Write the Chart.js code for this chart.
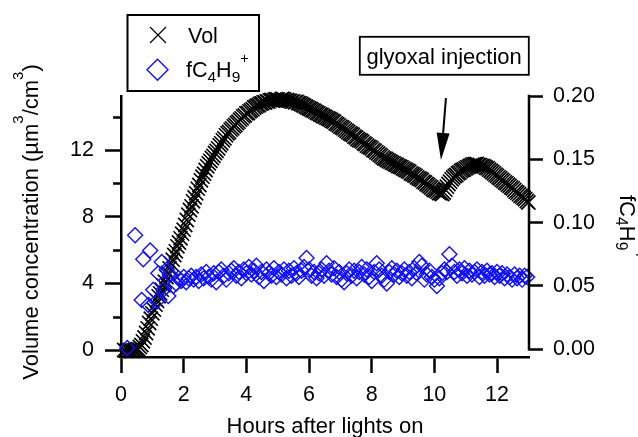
<!DOCTYPE html>
<html>
<head>
<meta charset="utf-8">
<script src="https://cdn.jsdelivr.net/npm/chart.js@4/dist/chart.umd.min.js"></script>
<style>
  html, body { margin: 0; padding: 0; background: #fff; }
  #wrap { width: 638px; height: 437px; }
</style>
</head>
<body>
<div id="wrap"><canvas id="chart" width="638" height="437"></canvas></div>
<script>
// Volume concentration (um3/cm3), left axis
const volHours = [
  0.10, 0.15, 0.20, 0.25, 0.30, 0.35, 0.40, 0.45, 0.50, 0.55,
  0.60, 0.65, 0.70, 0.75, 0.80, 0.85, 0.90, 0.95, 1.00, 1.05,
  1.10, 1.15, 1.20, 1.25, 1.30, 1.35, 1.40, 1.45, 1.50, 1.55,
  1.60, 1.65, 1.70, 1.75, 1.80, 1.85, 1.90, 1.95, 2.00, 2.05,
  2.10, 2.15, 2.20, 2.25, 2.30, 2.35, 2.40, 2.45, 2.50, 2.55,
  2.60, 2.65, 2.70, 2.75, 2.80, 2.85, 2.90, 2.95, 3.00, 3.05,
  3.10, 3.15, 3.20, 3.25, 3.30, 3.35, 3.40, 3.45, 3.50, 3.55,
  3.60, 3.65, 3.70, 3.75, 3.80, 3.85, 3.90, 3.95, 4.00, 4.05,
  4.10, 4.15, 4.20, 4.25, 4.30, 4.35, 4.40, 4.45, 4.50, 4.55,
  4.60, 4.65, 4.70, 4.75, 4.80, 4.85, 4.90, 4.95, 5.00, 5.05,
  5.10, 5.15, 5.20, 5.25, 5.30, 5.35, 5.40, 5.45, 5.50, 5.55,
  5.60, 5.65, 5.70, 5.75, 5.80, 5.85, 5.90, 5.95, 6.00, 6.05,
  6.10, 6.15, 6.20, 6.25, 6.30, 6.35, 6.40, 6.45, 6.50, 6.55,
  6.60, 6.65, 6.70, 6.75, 6.80, 6.85, 6.90, 6.95, 7.00, 7.05,
  7.10, 7.15, 7.20, 7.25, 7.30, 7.35, 7.40, 7.45, 7.50, 7.55,
  7.60, 7.65, 7.70, 7.75, 7.80, 7.85, 7.90, 7.95, 8.00, 8.05,
  8.10, 8.15, 8.20, 8.25, 8.30, 8.35, 8.40, 8.45, 8.50, 8.55,
  8.60, 8.65, 8.70, 8.75, 8.80, 8.85, 8.90, 8.95, 9.00, 9.05,
  9.10, 9.15, 9.20, 9.25, 9.30, 9.35, 9.40, 9.45, 9.50, 9.55,
  9.60, 9.65, 9.70, 9.75, 9.80, 9.85, 9.90, 9.95, 10.00, 10.05,
  10.10, 10.15, 10.20, 10.25, 10.30, 10.35, 10.40, 10.45, 10.50, 10.55,
  10.60, 10.65, 10.70, 10.75, 10.80, 10.85, 10.90, 10.95, 11.00, 11.05,
  11.10, 11.15, 11.20, 11.25, 11.30, 11.35, 11.40, 11.45, 11.50, 11.55,
  11.60, 11.65, 11.70, 11.75, 11.80, 11.85, 11.90, 11.95, 12.00, 12.05,
  12.10, 12.15, 12.20, 12.25, 12.30, 12.35, 12.40, 12.45, 12.50, 12.55,
  12.60, 12.65, 12.70, 12.75, 12.80, 12.85, 12.90, 12.95, 13.00
];
const volValues = [
  0.00, -0.05, 0.02, -0.04, 0.00, -0.06, -0.02, 0.00, 0.03, 0.05,
  0.18, 0.30, 0.52, 0.75, 1.02, 1.30, 1.62, 1.88, 2.20, 2.42,
  2.72, 2.95, 3.22, 3.40, 3.62, 3.88, 4.10, 4.38, 4.62, 4.90,
  5.18, 5.42, 5.70, 5.92, 6.22, 6.45, 6.70, 6.98, 7.22, 7.50,
  7.80, 8.12, 8.40, 8.62, 8.92, 9.15, 9.40, 9.68, 9.90, 10.18,
  10.40, 10.58, 10.80, 11.02, 11.20, 11.35, 11.52, 11.65, 11.82, 11.95,
  12.10, 12.28, 12.40, 12.58, 12.70, 12.88, 13.00, 13.08, 13.22, 13.30,
  13.42, 13.50, 13.62, 13.70, 13.82, 13.90, 14.02, 14.08, 14.20, 14.22,
  14.32, 14.38, 14.45, 14.55, 14.60, 14.66, 14.70, 14.78, 14.80, 14.86,
  14.85, 14.92, 14.90, 14.98, 15.00, 14.96, 15.02, 15.05, 15.04, 14.98,
  15.02, 15.08, 15.04, 14.98, 15.00, 14.96, 14.95, 14.90, 14.92, 14.86,
  14.90, 14.82, 14.80, 14.76, 14.70, 14.66, 14.60, 14.55, 14.50, 14.46,
  14.40, 14.36, 14.30, 14.24, 14.20, 14.14, 14.10, 14.04, 14.00, 13.94,
  13.90, 13.86, 13.80, 13.74, 13.70, 13.60, 13.55, 13.48, 13.40, 13.36,
  13.30, 13.22, 13.15, 13.08, 13.00, 12.96, 12.90, 12.80, 12.75, 12.66,
  12.60, 12.56, 12.50, 12.40, 12.35, 12.26, 12.20, 12.16, 12.10, 12.00,
  11.95, 11.86, 11.80, 11.72, 11.65, 11.56, 11.50, 11.46, 11.40, 11.34,
  11.30, 11.24, 11.20, 11.14, 11.10, 11.04, 11.00, 10.96, 10.90, 10.84,
  10.80, 10.74, 10.70, 10.60, 10.55, 10.50, 10.45, 10.36, 10.30, 10.26,
  10.20, 10.10, 10.05, 9.96, 9.90, 9.82, 9.75, 9.66, 9.60, 9.56,
  9.50, 9.42, 9.40, 9.36, 9.45, 9.62, 9.80, 9.96, 10.10, 10.24,
  10.35, 10.44, 10.50, 10.60, 10.65, 10.74, 10.80, 10.84, 10.90, 10.96,
  11.00, 11.06, 11.10, 11.14, 11.15, 11.16, 11.10, 11.10, 11.05, 11.04,
  11.00, 10.94, 10.90, 10.82, 10.75, 10.68, 10.60, 10.52, 10.45, 10.36,
  10.30, 10.22, 10.15, 10.06, 10.00, 9.92, 9.85, 9.76, 9.70, 9.60,
  9.50, 9.44, 9.35, 9.26, 9.20, 9.12, 9.05, 8.94, 8.85
];

// fC4H9+ fraction, right axis
const fcHours = [
  0.20, 0.45, 0.66, 0.71, 0.87, 0.93, 1.03, 1.14, 1.19, 1.30,
  1.35, 1.46, 1.51, 1.56, 1.67,
  1.76, 1.84, 1.92, 2.00, 2.08, 2.16, 2.24, 2.32, 2.40, 2.48,
  2.56, 2.64, 2.72, 2.80, 2.88, 2.96, 3.04, 3.12, 3.20, 3.28,
  3.36, 3.44, 3.52, 3.60, 3.68, 3.76, 3.84, 3.92, 4.00, 4.08,
  4.16, 4.24, 4.32, 4.40, 4.48, 4.56, 4.64, 4.72, 4.80, 4.88,
  4.96, 5.04, 5.12, 5.20, 5.28, 5.36, 5.44, 5.52, 5.60, 5.68,
  5.76, 5.84, 5.92, 6.00, 6.08, 6.16, 6.24, 6.32, 6.40, 6.48,
  6.56, 6.64, 6.72, 6.80, 6.88, 6.96, 7.04, 7.12, 7.20, 7.28,
  7.36, 7.44, 7.52, 7.60, 7.68, 7.76, 7.84, 7.92, 8.00, 8.08,
  8.16, 8.24, 8.32, 8.40, 8.48, 8.56, 8.64, 8.72, 8.80, 8.88,
  8.96, 9.04, 9.12, 9.20, 9.28, 9.36, 9.44, 9.52, 9.60, 9.68,
  9.76, 9.84, 9.92, 10.00, 10.08, 10.16, 10.24, 10.32, 10.40, 10.48,
  10.56, 10.64, 10.72, 10.80, 10.88, 10.96, 11.04, 11.12, 11.20, 11.28,
  11.36, 11.44, 11.52, 11.60, 11.68, 11.76, 11.84, 11.92, 12.00, 12.08,
  12.16, 12.24, 12.32, 12.40, 12.48, 12.56, 12.64, 12.72, 12.80, 12.88,
  12.96
];
const fcValues = [
  0.001, 0.090, 0.039, 0.071, 0.035, 0.078, 0.047, 0.038, 0.060, 0.069,
  0.047, 0.063, 0.042, 0.059, 0.050,
  0.052, 0.056, 0.054, 0.057, 0.053, 0.056, 0.058, 0.055, 0.057, 0.054,
  0.059, 0.056, 0.061, 0.057, 0.055, 0.060, 0.053, 0.061, 0.063, 0.058,
  0.055, 0.060, 0.062, 0.064, 0.058, 0.061, 0.056, 0.063, 0.060, 0.065,
  0.059, 0.062, 0.066, 0.057, 0.061, 0.054, 0.063, 0.060, 0.058, 0.064,
  0.057, 0.061, 0.059, 0.063, 0.056, 0.062, 0.058, 0.064, 0.060, 0.057,
  0.062, 0.065, 0.072, 0.063, 0.058, 0.061, 0.056, 0.060, 0.063, 0.058,
  0.068, 0.062, 0.059, 0.064, 0.057, 0.061, 0.055, 0.053, 0.060, 0.063,
  0.058, 0.062, 0.056, 0.061, 0.065, 0.059, 0.063, 0.057, 0.054, 0.061,
  0.068, 0.063, 0.058, 0.055, 0.052, 0.061, 0.064, 0.059, 0.062, 0.057,
  0.060, 0.063, 0.058, 0.061, 0.056, 0.064, 0.060, 0.069, 0.066, 0.055,
  0.059, 0.062, 0.057, 0.055, 0.050, 0.056, 0.060, 0.063, 0.061, 0.075,
  0.066, 0.061, 0.058, 0.063, 0.060, 0.064, 0.058, 0.062, 0.059, 0.061,
  0.063, 0.057, 0.061, 0.058, 0.062, 0.059, 0.060, 0.057, 0.061, 0.058,
  0.060, 0.056, 0.059, 0.057, 0.055, 0.059, 0.056, 0.058, 0.055, 0.058,
  0.057
];

const xTicks = [0, 2, 4, 6, 8, 10, 12];
const leftTicks = [0, 4, 8, 12];
const leftMinorTicks = [2, 6, 10, 14];
const rightTicks = [0, 0.05, 0.10, 0.15, 0.20];

const FONT = "'Liberation Sans', Arial, sans-serif";
const BLUE = '#1010ff';

// text pieces with sub/superscripts
function drawRich(ctx, parts, x, y, size) {
  let cx = x;
  for (const p of parts) {
    const s = p.k === 'sub' ? size * 0.72 : p.k === 'sup' ? size * 0.68 : size;
    const dy = p.k === 'sub' ? size * 0.2 : p.k === 'sup' ? -size * 0.68 : 0;
    ctx.font = s + 'px ' + FONT;
    ctx.fillText(p.t, cx, y + dy);
    cx += ctx.measureText(p.t).width;
  }
  return cx - x;
}
function richWidth(ctx, parts, size) {
  let w = 0;
  for (const p of parts) {
    const s = p.k === 'sub' ? size * 0.72 : p.k === 'sup' ? size * 0.68 : size;
    ctx.font = s + 'px ' + FONT;
    w += ctx.measureText(p.t).width;
  }
  return w;
}

const fcLabel = [{t: 'fC'}, {t: '4', k: 'sub'}, {t: 'H'}, {t: '9', k: 'sub'}, {t: '+', k: 'sup'}];
const yLabel = [{t: 'Volume concentration (µm'}, {t: '3', k: 'sup'}, {t: '/cm'}, {t: '3', k: 'sup'}, {t: ')'}];

const extras = {
  id: 'extras',
  afterDraw(chart) {
    const ctx = chart.ctx;
    const yL = chart.scales.y, yR = chart.scales.y2, x = chart.scales.x;
    ctx.save();
    ctx.strokeStyle = '#000';
    ctx.fillStyle = '#000';
    ctx.lineWidth = 2.5;

    // minor ticks on the left axis
    ctx.beginPath();
    for (const v of leftMinorTicks) {
      const py = Math.round(yL.getPixelForValue(v)) + 0.5;
      ctx.moveTo(yL.right, py);
      ctx.lineTo(yL.right - 8, py);
    }
    ctx.stroke();

    // right axis line only spans 0 .. 0.20
    const rx = yR.left;
    ctx.beginPath();
    ctx.moveTo(rx, yR.getPixelForValue(0) + 1.25);
    ctx.lineTo(rx, yR.getPixelForValue(0.2) - 1.25);
    ctx.stroke();

    // legend box
    ctx.lineWidth = 2;
    ctx.strokeRect(127.5, 15, 131.5, 76);
    ctx.lineWidth = 1.2;
    ctx.beginPath();
    ctx.moveTo(150, 27); ctx.lineTo(166, 43);
    ctx.moveTo(166, 27); ctx.lineTo(150, 43);
    ctx.stroke();
    ctx.strokeStyle = BLUE;
    ctx.lineWidth = 1.4;
    ctx.beginPath();
    ctx.moveTo(147, 69.7); ctx.lineTo(157.5, 59.2); ctx.lineTo(168, 69.7); ctx.lineTo(157.5, 80.2);
    ctx.closePath();
    ctx.stroke();
    ctx.textBaseline = 'alphabetic';
    ctx.textAlign = 'left';
    ctx.fillStyle = '#000';
    ctx.font = '21.5px ' + FONT;
    ctx.fillText('Vol', 188, 42.7);
    drawRich(ctx, fcLabel, 186, 77.3, 21.5);

    // annotation
    ctx.strokeStyle = '#000';
    ctx.lineWidth = 1.8;
    ctx.strokeRect(359.8, 36.8, 169, 38);
    ctx.font = '22px ' + FONT;
    ctx.fillText('glyoxal injection', 366.5, 64);

    // arrow, in data units
    const ax0 = x.getPixelForValue(10.37), ay0 = yL.getPixelForValue(15.12);
    const ax1 = x.getPixelForValue(10.21), ay1 = yL.getPixelForValue(11.4);
    const dx = ax1 - ax0, dy = ay1 - ay0, len = Math.hypot(dx, dy);
    const ux = dx / len, uy = dy / len;
    const bx = ax1 - ux * 27, by = ay1 - uy * 27;
    ctx.lineWidth = 2;
    ctx.beginPath();
    ctx.moveTo(ax0, ay0); ctx.lineTo(bx, by);
    ctx.stroke();
    ctx.beginPath();
    ctx.moveTo(ax1, ay1);
    ctx.lineTo(bx - uy * 6.5, by + ux * 6.5);
    ctx.lineTo(bx + uy * 6.5, by - ux * 6.5);
    ctx.closePath();
    ctx.fill();

    // axis titles
    ctx.font = '22px ' + FONT;
    ctx.textAlign = 'center';
    ctx.fillText('Hours after lights on', 325, 433);
    ctx.textAlign = 'left';

    const wl = richWidth(ctx, yLabel, 22);
    ctx.save();
    ctx.translate(38.3, 222);
    ctx.rotate(-Math.PI / 2);
    drawRich(ctx, yLabel, -wl / 2, 0, 22);
    ctx.restore();

    ctx.save();
    ctx.translate(620, 195);
    ctx.rotate(Math.PI / 2);
    drawRich(ctx, fcLabel, 0, 0, 22);
    ctx.restore();

    ctx.restore();
  }
};

const tickFont = { family: FONT, size: 21.5 };

new Chart(document.getElementById('chart'), {
  type: 'scatter',
  data: {
    datasets: [
      {
        label: 'Vol',
        data: volHours.map((h, i) => ({ x: h, y: volValues[i] })),
        yAxisID: 'y',
        pointStyle: 'crossRot',
        pointRadius: 10,
        pointBorderWidth: 1.6,
        borderColor: '#000',
        pointBorderColor: '#000',
        showLine: false,
        clip: false,
        order: 2
      },
      {
        label: 'fC4H9+',
        data: fcHours.map((h, i) => ({ x: h, y: fcValues[i] })),
        yAxisID: 'y2',
        pointStyle: 'rectRot',
        pointRadius: 7.5,
        pointBorderWidth: 1.4,
        borderColor: BLUE,
        pointBorderColor: BLUE,
        pointBackgroundColor: 'rgba(0,0,0,0)',
        showLine: false,
        clip: false,
        order: 1
      }
    ]
  },
  options: {
    responsive: false,
    animation: false,
    devicePixelRatio: 1,
    layout: { padding: { top: 96, left: 0, right: 0, bottom: 0 } },
    plugins: { legend: { display: false }, tooltip: { enabled: false } },
    scales: {
      x: {
        type: 'linear',
        position: 'bottom',
        min: 0,
        max: 13.02,
        afterFit(s) { s.height = 80; },
        afterBuildTicks(s) { s.ticks = xTicks.map(v => ({ value: v })); },
        ticks: { font: tickFont, color: '#000', padding: 9, maxRotation: 0, autoSkip: false },
        grid: { drawOnChartArea: false, drawTicks: true, tickLength: 16, tickWidth: 2.5, tickColor: '#000' },
        border: { display: true, color: '#000', width: 2.5 }
      },
      y: {
        type: 'linear',
        position: 'left',
        min: -0.42,
        max: 15.24,
        afterFit(s) { s.width = 121; },
        afterBuildTicks(s) { s.ticks = leftTicks.map(v => ({ value: v })); },
        ticks: { font: tickFont, color: '#000', padding: 11, autoSkip: false },
        grid: { drawOnChartArea: false, drawTicks: true, tickLength: 16, tickWidth: 2.5, tickColor: '#000' },
        border: { display: true, color: '#000', width: 2.5 }
      },
      y2: {
        type: 'linear',
        position: 'right',
        min: -0.0061,
        max: 0.20,
        afterFit(s) { s.width = 109; },
        afterBuildTicks(s) { s.ticks = rightTicks.map(v => ({ value: v })); },
        ticks: { font: tickFont, color: '#000', padding: 10, autoSkip: false, callback: v => v.toFixed(2) },
        grid: { drawOnChartArea: false, drawTicks: true, tickLength: 14, tickWidth: 2.5, tickColor: '#000' },
        border: { display: false }
      }
    }
  },
  plugins: [extras]
});
</script>
</body>
</html>
